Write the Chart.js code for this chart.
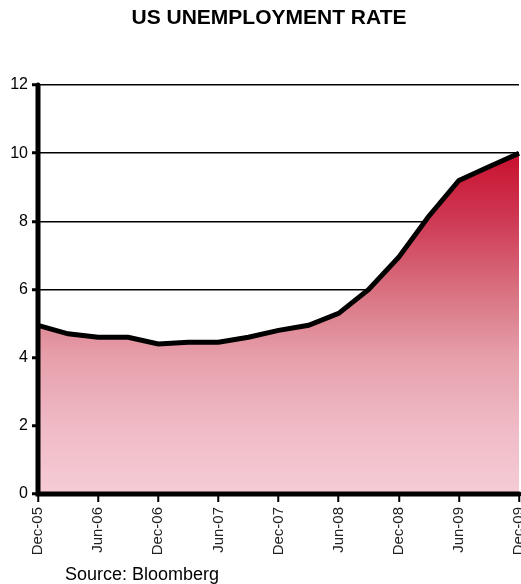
<!DOCTYPE html>
<html>
<head>
<meta charset="utf-8">
<title>US Unemployment Rate</title>
<script src="https://cdn.jsdelivr.net/npm/chart.js@4/dist/chart.umd.min.js"></script>
<style>
    html, body { margin: 0; padding: 0; background: #fff; }
</style>
</head>
<body>
<canvas id="myChart" width="521" height="584"></canvas>
<script>
// quarterly readings, Dec-05 .. Dec-09
const quarters = ['Dec-05', 'Mar-06', 'Jun-06', 'Sep-06', 'Dec-06', 'Mar-07', 'Jun-07', 'Sep-07', 'Dec-07',
    'Mar-08', 'Jun-08', 'Sep-08', 'Dec-08', 'Mar-09', 'Jun-09', 'Sep-09', 'Dec-09'];
const rates = [4.95, 4.7, 4.6, 4.6, 4.4, 4.45, 4.45, 4.6, 4.8, 4.95, 5.3, 6.0, 6.95, 8.15, 9.2, 9.6, 10.0];
const yTicks = [0, 2, 4, 6, 8, 10, 12];

const FONT = '"Liberation Sans", Arial, sans-serif';

/**
 * Red to pink gradient under the line
 * @param {Object} context - scriptable context
 * @returns {CanvasGradient}
 */
function getFill(context) {
    let chart = context.chart;
    if (!chart.chartArea) return null;
    let y = chart.scales.y;
    let g = chart.ctx.createLinearGradient(0, y.getPixelForValue(10), 0, y.getPixelForValue(0));
    g.addColorStop(0, '#c8102e');
    g.addColorStop(0.2, '#cf3a55');
    g.addColorStop(0.4, '#d8707f');
    g.addColorStop(0.6, '#e6a0ab');
    g.addColorStop(0.8, '#efbac5');
    g.addColorStop(1, '#f6ccd6');
    return g;
}

// heavy left/bottom axis lines go on top of the filled area
const axisPlugin = {
    id: 'axisLines',
    afterDatasetsDraw(chart) {
        let a = chart.chartArea;
        let ctx = chart.ctx;
        ctx.save();
        ctx.strokeStyle = '#000';
        ctx.lineWidth = 5;
        ctx.lineCap = 'round';
        ctx.beginPath();
        ctx.moveTo(a.left, a.top);
        ctx.lineTo(a.left, a.bottom);
        ctx.lineTo(a.right, a.bottom);
        ctx.stroke();
        ctx.restore();
    }
};

// title and source note
const textPlugin = {
    id: 'texts',
    afterDraw(chart) {
        let ctx = chart.ctx;
        ctx.save();
        ctx.fillStyle = '#000';
        ctx.font = 'bold 21px ' + FONT;
        ctx.textAlign = 'center';
        ctx.textBaseline = 'middle';
        ctx.fillText('US UNEMPLOYMENT RATE', 269, 18);
        ctx.font = '18px ' + FONT;
        ctx.textAlign = 'left';
        ctx.textBaseline = 'alphabetic';
        ctx.fillText('Source: Bloomberg', 65, 580);
        ctx.restore();
    }
};

let ctx = document.getElementById('myChart').getContext('2d');
let chart = new Chart(ctx, {
    type: 'line',
    data: {
        labels: quarters,
        datasets: [{
            data: rates,
            borderColor: '#000',
            borderWidth: 5,
            backgroundColor: getFill,
            fill: 'origin',
            pointRadius: 0,
            tension: 0
        }]
    },
    options: {
        responsive: false,
        animation: false,
        layout: { padding: { top: 85, left: 0, right: 2, bottom: 28 } },
        plugins: {
            legend: { display: false },
            tooltip: { enabled: false }
        },
        scales: {
            x: {
                afterFit: function (scale) {
                    scale.height = 62;
                    scale.paddingLeft = 0;
                    scale.paddingRight = 0;
                },
                border: { display: false },
                grid: {
                    color: function (c) { return c.index === quarters.length - 1 ? '#000' : 'rgba(0,0,0,0)'; },
                    tickColor: '#000',
                    lineWidth: 2.5,
                    tickWidth: 2,
                    tickLength: 8
                },
                ticks: {
                    autoSkip: false,
                    maxRotation: 90,
                    minRotation: 90,
                    padding: 5,
                    color: '#222',
                    font: { family: FONT, size: 15 },
                    callback: function (value, index) {
                        return index % 2 === 0 ? quarters[index] : null;
                    }
                }
            },
            y: {
                min: 0,
                max: 12,
                afterBuildTicks: function (scale) {
                    scale.ticks = yTicks.map(function (v) { return { value: v }; });
                },
                afterFit: function (scale) {
                    scale.width = 38;
                    scale.paddingTop = 0;
                    scale.paddingBottom = 0;
                },
                border: { display: false },
                grid: {
                    color: '#000',
                    lineWidth: 1.5,
                    tickColor: '#000',
                    tickWidth: 3,
                    tickLength: 6
                },
                ticks: {
                    padding: 4,
                    color: '#000',
                    font: { family: FONT, size: 16 }
                }
            }
        }
    },
    plugins: [axisPlugin, textPlugin]
});
</script>
</body>
</html>
